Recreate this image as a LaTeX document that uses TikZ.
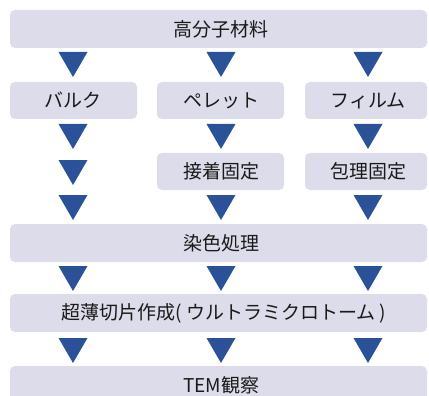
\documentclass[tikz,border=0pt]{standalone}
\usepackage{fontspec}
\setmainfont{Noto Sans CJK JP}
\definecolor{boxfill}{HTML}{DCDCEA}
\definecolor{tricol}{HTML}{2B5299}
\definecolor{textcol}{HTML}{1A1A1A}
\tikzset{
  box/.style={fill=boxfill, draw=none, rounded corners=5pt},
  lbl/.style={inner sep=0pt, text=textcol, font=\fontsize{19}{19}\selectfont, anchor=center},
  tri/.style={fill=tricol, draw=none}
}
\newcommand{\downtri}[3]{\fill[tri] (#2-14.5,#3) coordinate (#1) -- (#2+14.5,#3) -- (#2,#3+25) -- cycle;}
\begin{document}
\begin{tikzpicture}[x=1pt,y=-1pt]
\useasboundingbox (0,0) rectangle (429,396);
\clip (0,0) rectangle (429,396);
% boxes
\path[box] (10,10) rectangle (427,48);
\path[box] (10,82) rectangle (137,119);
\path[box] (157,82) rectangle (284,119);
\path[box] (305,82) rectangle (427,119);
\path[box] (157,153) rectangle (284,190);
\path[box] (305,153) rectangle (427,190);
\path[box] (10,224) rectangle (427,262);
\path[box] (10,294) rectangle (427,332);
\path[box] (10,366) rectangle (427,404);
% labels
\node[lbl] (polymer) at (221,29) {高分子材料};
\node[lbl] (bulk) at (73.5,100.5) {バルク};
\node[lbl] (pellet) at (221,100.5) {ペレット};
\node[lbl] (film) at (368,100.5) {フィルム};
\node[lbl] (glue) at (221,171.5) {接着固定};
\node[lbl] (embed) at (368,171.5) {包理固定};
\node[lbl] (stain) at (221,243) {染色処理};
\node[lbl] (slice) at (224,313) {超薄切片作成( ウルトラミクロトーム )};
\node[lbl] (tem) at (221,385) {TEM観察};
% triangles
\downtri{t11}{73}{52}
\downtri{t12}{221}{52}
\downtri{t13}{368}{52}
\downtri{t21}{73}{124}
\downtri{t22}{221}{124}
\downtri{t23}{368}{124}
\downtri{t31}{73}{160}
\downtri{t41}{73}{195}
\downtri{t42}{221}{195}
\downtri{t43}{368}{195}
\downtri{t51}{73}{266}
\downtri{t52}{221}{266}
\downtri{t53}{368}{266}
\downtri{t61}{73}{338}
\downtri{t62}{221}{338}
\downtri{t63}{368}{338}
\end{tikzpicture}
\end{document}
